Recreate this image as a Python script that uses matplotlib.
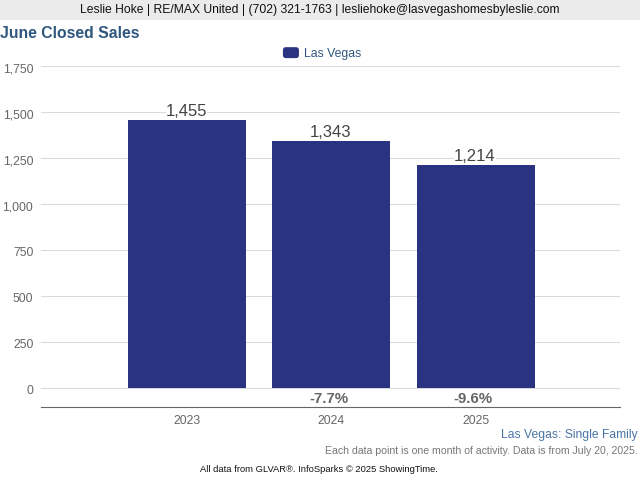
import matplotlib
matplotlib.use('Agg')
import matplotlib.pyplot as plt
from matplotlib.legend_handler import HandlerPatch
from matplotlib.patches import FancyBboxPatch, Rectangle
from matplotlib.transforms import ScaledTranslation

plt.rcParams['font.family'] = ['Liberation Sans', 'DejaVu Sans']

years = ['2023', '2024', '2025']
closed_sales = [1455, 1343, 1214]
pct_change = ['', '-7.7%', '-9.6%']
yticks = [0, 250, 500, 750, 1000, 1250, 1500, 1750]

W, H = 640, 480
fig = plt.figure(figsize=(6.4, 4.8), dpi=100)


def fx(px):
    return px / W


def fy(py):
    return 1 - py / H


class RoundSwatch(HandlerPatch):
    def create_artists(self, legend, orig, xdescent, ydescent, width, height, fontsize, trans):
        p = FancyBboxPatch((-xdescent + 1.5, -ydescent + 1.5), width - 3, height - 3,
                           boxstyle='round,pad=1.5,rounding_size=2', facecolor=orig.get_facecolor(),
                           edgecolor='none', transform=trans)
        return [p]


# grey band along the top
fig.add_artist(Rectangle((0, fy(20)), 1, 20 / H, transform=fig.transFigure,
                         color='#ebebeb', lw=0))
fig.text(fx(319.5), fy(10.5), 'Leslie Hoke | RE/MAX United | (702) 321-1763 | lesliehoke@lasvegashomesbyleslie.com',
         ha='center', va='center', fontsize=8.76, color='#111111')
fig.text(fx(0), fy(34), 'June Closed Sales', ha='left', va='center',
         fontsize=11.3, fontweight='bold', color='#2f567f')

ax = fig.add_axes([fx(41), fy(406.5), (620 - 41) / W, (406.5 - 66) / H])
xs = list(range(len(years)))
bars = ax.bar(xs, closed_sales, width=0.817, color='#2a3282', zorder=3)

ax.set_xlim(-1.01, 3.0)
ax.set_ylim(-100.5, 1750)
ax.set_yticks(yticks)
ax.set_yticklabels([f'{v:,}' for v in yticks])
ax.set_xticks(xs)
ax.set_xticklabels(years)
ax.grid(axis='y', color='#d9d9d9', lw=0.75, zorder=0)
ax.tick_params(axis='both', length=0, labelsize=8.8, labelcolor='#666666')
ax.tick_params(axis='y', pad=5.5)
ax.tick_params(axis='x', pad=6)
# the y labels sit a little under their gridlines
nudge = ScaledTranslation(0, -1.5 / 100, fig.dpi_scale_trans)
for label in ax.get_yticklabels():
    label.set_transform(label.get_transform() + nudge)
for side in ['top', 'left', 'right']:
    ax.spines[side].set_visible(False)
ax.spines['bottom'].set_color('#666666')
ax.spines['bottom'].set_linewidth(0.8)

for x, v, pct in zip(xs, closed_sales, pct_change):
    ax.annotate(f'{v:,}', (x, v), xytext=(-0.4, 0.8), textcoords='offset points',
                ha='center', va='bottom', fontsize=12, color='#444444', zorder=4,
                bbox=dict(facecolor='white', edgecolor='none', pad=0))
    if pct:
        ax.annotate(pct, (x, 0), xytext=(-1.8, -7.6), textcoords='offset points',
                    ha='center', va='center', fontsize=10.8, fontweight='bold', color='#666666')

leg = fig.legend([bars[0]], ['Las Vegas'], loc='center', bbox_to_anchor=(fx(322), fy(53.5)),
                 frameon=False, fontsize=8.8, handlelength=1.31, handleheight=1.0,
                 handletextpad=0.4, borderpad=0, handler_map={bars[0]: RoundSwatch()})
leg.get_texts()[0].set_color('#2f567f')

fig.text(fx(638), fy(435), 'Las Vegas: Single Family', ha='right', va='center',
         fontsize=8.7, color='#4a74a5')
fig.text(fx(637.5), fy(451), 'Each data point is one month of activity. Data is from July 20, 2025.',
         ha='right', va='center', fontsize=7.57, color='#777777')
fig.text(fx(319), fy(469.7), 'All data from GLVAR\u00ae. InfoSparks \u00a9 2025 ShowingTime.',
         ha='center', va='center', fontsize=6.74, color='#111111')

fig.savefig('out.png', dpi=100)
